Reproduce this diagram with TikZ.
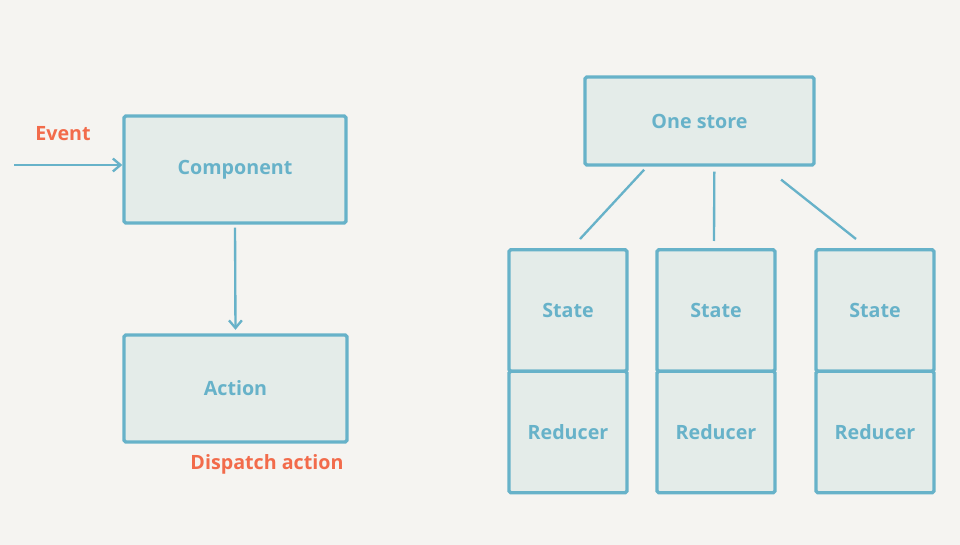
\documentclass[tikz,border=0pt]{standalone}
\usepackage{fontspec}
\setmainfont{Open Sans}
\usetikzlibrary{positioning,arrows.meta}

\definecolor{boxblue}{HTML}{67B2C9}
\definecolor{boxfill}{HTML}{E4ECE9}
\definecolor{paper}{HTML}{F5F4F1}
\definecolor{notered}{HTML}{F26B4B}
\def\px{0.03cm}

\begin{document}
\begin{tikzpicture}[x=\px,y=-\px,every node/.style={font=\fontsize{16.8}{20}\selectfont\bfseries},
box/.style={shape=rectangle,draw=boxblue,fill=boxfill,line width=2.9pt,text=boxblue,rounded corners=1.5pt},
cell/.style={box,minimum width=118*\px,minimum height=121.5*\px,outer sep=0pt},
link/.style={draw=boxblue,line width=2pt},
note/.style={text=notered}]

\fill[paper] (0,0) rectangle (960,545);

% left side
\node [box, minimum width=222*\px, minimum height=107*\px] (comp) at (235,169.5) {Component};
\node [box, minimum width=223*\px, minimum height=107*\px] (action) at (235.5,388.5) {Action};
\node [note] (event) at (63,134) {Event};
\node [note] (dispatch) at (267,464) {Dispatch action};
\coordinate (ev) at (14,165);
\draw[link,-{Straight Barb[length=6.5pt,width=11pt]}] (ev) -- (ev -| comp.west);
\draw[link,-{Straight Barb[length=6.5pt,width=11pt]},shorten <=2.5pt,shorten >=3pt] (comp.south) -- (action.north);

% right side
\node [box, minimum width=229*\px, minimum height=88*\px] (store) at (699.5,121) {One store};
\foreach \name/\x in {a/568,b/716,c/875}{
  \node [cell] (state\name) at (\x,310.5) {State};
  \node [cell, below=0pt of state\name] (reducer\name) {Reducer};
}
\coordinate (ta) at (580,239);
\coordinate (tb) at (714,241);
\coordinate (tc) at (856,239);
\draw[link,shorten <=3.5pt] (store.221) -- (ta);
\draw[link,shorten <=4.3pt] (store.288.2) -- (tb);
\draw[link,shorten <=17.8pt] (store.325.1) -- (tc);

\end{tikzpicture}
\end{document}
